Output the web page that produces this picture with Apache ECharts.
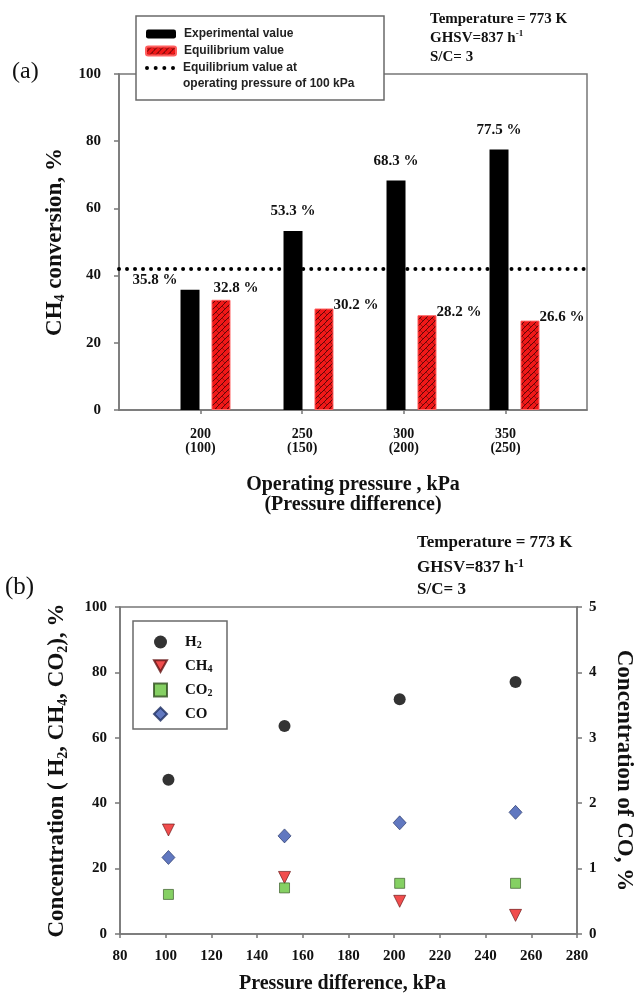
<!DOCTYPE html>
<html><head><meta charset="utf-8">
<script src="https://cdn.jsdelivr.net/npm/echarts@6/dist/echarts.min.js"></script>
<style>html,body{margin:0;padding:0;background:#fff}#c{width:635px;height:999px}</style>
</head><body><div id="c"></div><script>
// ---- data ----
const operatingPressure = [200, 250, 300, 350];
const pressureDifferenceLabels = ['100', '150', '200', '250'];
const experimentalValue = [35.8, 53.3, 68.3, 77.5];
const equilibriumValue = [32.8, 30.2, 28.2, 26.6];
const equilibriumAt100kPa = 42;
const pressureDifference = [101.2, 152.0, 202.4, 253.1];
const h2 = [47.2, 63.6, 71.8, 77.1];
const ch4 = [31.8, 17.3, 10.0, 5.7];
const co2 = [12.1, 14.1, 15.5, 15.5];
const co = [1.17, 1.50, 1.70, 1.86];

// ---- styles ----
const SERIF = '"Liberation Serif","Times New Roman",serif';
const SANS = '"Liberation Sans",Arial,sans-serif';
const AX = '#777';
const TXT = '#111';
const DOTS_ICON = 'path://M0,2a2,2 0 1,0 4,0a2,2 0 1,0 -4,0ZM8.67,2a2,2 0 1,0 4,0a2,2 0 1,0 -4,0ZM17.33,2a2,2 0 1,0 4,0a2,2 0 1,0 -4,0ZM26,2a2,2 0 1,0 4,0a2,2 0 1,0 -4,0Z';
const DOWN_TRIANGLE_ICON = 'path://M0,0L10,0L5,9Z';

function hatch() {
  const c = document.createElement('canvas'); c.width = 6; c.height = 6;
  const g = c.getContext('2d');
  g.fillStyle = '#f01818'; g.fillRect(0, 0, 6, 6);
  g.strokeStyle = 'rgba(25,0,0,0.85)'; g.lineWidth = 0.8;
  g.beginPath();
  g.moveTo(-1, 7); g.lineTo(7, -1);
  g.moveTo(-1, 1); g.lineTo(1, -1);
  g.moveTo(5, 7); g.lineTo(7, 5);
  g.stroke();
  g.strokeStyle = 'rgba(25,0,0,0.45)';
  g.beginPath(); g.moveTo(0, 0); g.lineTo(3, 3); g.stroke();
  return c;
}
const redPattern = { image: hatch(), repeat: 'repeat' };
const sub = (fs, lh) => ({ fontSize: fs, fontWeight: 'bold', fontFamily: SERIF, verticalAlign: 'bottom', lineHeight: lh, color: TXT });
const legendTextA = { fontFamily: SANS, fontWeight: 'bold', fontSize: 12, color: '#222', lineHeight: 14, padding: [0, 0, 0, 3] };

const chart = echarts.init(document.getElementById('c'), null, { renderer: 'canvas' });
const option = {
  animation: false,
  textStyle: { fontFamily: SERIF },
  grid: [
    { left: 119, right: 48, top: 74, bottom: 589, show: true, borderColor: AX, borderWidth: 1.5, containLabel: false, outerBoundsMode: 'none' },
    { left: 154, right: 69, top: 74, bottom: 589, containLabel: false, outerBoundsMode: 'none' },
    { left: 120, right: 58, top: 607, bottom: 65, show: true, borderColor: AX, borderWidth: 1.5, containLabel: false, outerBoundsMode: 'none' }
  ],
  xAxis: [
    {
      gridIndex: 0, type: 'value', min: 160, max: 390,
      axisLine: { lineStyle: { color: AX, width: 1.5 } },
      axisTick: { customValues: operatingPressure, length: 4, lineStyle: { color: AX, width: 1.5 } },
      splitLine: { show: false },
      axisLabel: {
        customValues: operatingPressure, margin: 17, color: TXT, fontWeight: 'bold', fontSize: 14, lineHeight: 14,
        formatter: v => { const i = operatingPressure.indexOf(v); return operatingPressure[i] + '\n(' + pressureDifferenceLabels[i] + ')'; }
      },
      name: 'Operating pressure , kPa\n(Pressure difference)', nameLocation: 'middle', nameGap: 65,
      nameTextStyle: { fontSize: 20, fontWeight: 'bold', color: TXT, lineHeight: 20, verticalAlign: 'top' }
    },
    { gridIndex: 1, type: 'category', data: operatingPressure.map(String), show: false },
    {
      gridIndex: 2, type: 'value', min: 80, max: 280, interval: 20,
      axisLine: { lineStyle: { color: AX, width: 1.5 } },
      axisTick: { length: 4, lineStyle: { color: AX, width: 1.5 } },
      splitLine: { show: false },
      axisLabel: { margin: 15, color: TXT, fontWeight: 'bold', fontSize: 15 },
      name: 'Pressure difference, kPa', nameLocation: 'middle', nameGap: 40,
      nameTextStyle: { fontSize: 20, fontWeight: 'bold', color: TXT, verticalAlign: 'top', padding: [0, 12, 0, 0] }
    }
  ],
  yAxis: [
    {
      gridIndex: 0, type: 'value', min: 0, max: 100, interval: 20,
      axisLine: { show: true, lineStyle: { color: AX, width: 1.5 } },
      axisTick: { show: true, length: 5, lineStyle: { color: AX, width: 1.5 } },
      splitLine: { show: false },
      axisLabel: { margin: 18, color: TXT, fontWeight: 'bold', fontSize: 15 },
      name: 'CH{s|4} conversion, %', nameLocation: 'middle', nameGap: 46, nameRotate: 90,
      nameTextStyle: { fontSize: 23, fontWeight: 'bold', color: TXT, lineHeight: 26, rich: { s: sub(14, 26) } }
    },
    { gridIndex: 1, type: 'value', min: 0, max: 100, show: false },
    {
      gridIndex: 2, type: 'value', min: 0, max: 100, interval: 20,
      axisLine: { show: true, lineStyle: { color: AX, width: 1.5 } },
      axisTick: { show: true, length: 5, lineStyle: { color: AX, width: 1.5 } },
      splitLine: { show: false },
      axisLabel: { margin: 13, color: TXT, fontWeight: 'bold', fontSize: 15 },
      name: 'Concentration ( H{s|2}, CH{s|4}, CO{s|2}), %', nameLocation: 'middle', nameGap: 50, nameRotate: 90,
      nameTextStyle: { fontSize: 23, fontWeight: 'bold', color: TXT, lineHeight: 26, rich: { s: sub(14, 26) } }
    },
    {
      gridIndex: 2, type: 'value', position: 'right', min: 0, max: 5, interval: 1,
      axisLine: { show: true, lineStyle: { color: AX, width: 1.5 } },
      axisTick: { show: true, length: 5, lineStyle: { color: AX, width: 1.5 } },
      splitLine: { show: false },
      axisLabel: { margin: 12, color: TXT, fontWeight: 'bold', fontSize: 15 },
      name: 'Concentration of CO, %', nameLocation: 'middle', nameGap: 35, nameRotate: -90,
      nameTextStyle: { fontSize: 23, fontWeight: 'bold', color: TXT }
    }
  ],
  legend: [
    {
      data: ['Experimental value', 'Equilibrium value'],
      orient: 'vertical', left: 145, top: 27, padding: 0, itemWidth: 30, itemHeight: 9, itemGap: 3,
      selectedMode: false, z: 6, textStyle: legendTextA
    },
    {
      data: [{ name: 'Equilibrium value at', icon: DOTS_ICON }],
      orient: 'vertical', left: 145, top: 61, padding: 0, itemWidth: 30, itemHeight: 4,
      selectedMode: false, z: 6, textStyle: legendTextA
    },
    {
      data: ['H2', { name: 'CH4', icon: DOWN_TRIANGLE_ICON }, 'CO2', 'CO'],
      orient: 'vertical', left: 153, top: 634, padding: 0, itemWidth: 13, itemHeight: 13, itemGap: 8,
      selectedMode: false, z: 6,
      formatter: n => n.replace(/(\d)/, '{s|$1}'),
      textStyle: { fontFamily: SERIF, fontWeight: 'bold', fontSize: 15, color: TXT, lineHeight: 16, padding: [0, 0, 0, 13],
        rich: { s: sub(10, 16) } }
    }
  ],
  graphic: [
    { type: 'rect', z: 5, shape: { x: 136, y: 16, width: 248, height: 84 }, style: { fill: '#fff', stroke: '#6a6a6a', lineWidth: 1.5 } },
    { type: 'text', z: 7, x: 183, y: 84, style: { text: 'operating pressure of 100 kPa', font: 'bold 12px ' + SANS, fill: '#222', verticalAlign: 'middle' } },
    { type: 'rect', z: 5, shape: { x: 133, y: 621, width: 94, height: 108 }, style: { fill: '#fff', stroke: '#6a6a6a', lineWidth: 1.5 } },
    { type: 'text', x: 430, y: 19, style: { text: 'Temperature = 773 K', font: 'bold 15px ' + SERIF, fill: TXT, verticalAlign: 'middle' } },
    { type: 'text', x: 430, y: 38, style: { text: 'GHSV=837 h{sup|-1}', font: 'bold 15px ' + SERIF, fill: TXT, verticalAlign: 'middle',
      rich: { sup: { font: 'bold 9px ' + SERIF, verticalAlign: 'top', padding: [0, 0, 8, 0] } } } },
    { type: 'text', x: 430, y: 57, style: { text: 'S/C= 3', font: 'bold 15px ' + SERIF, fill: TXT, verticalAlign: 'middle' } },
    { type: 'text', x: 417, y: 543, style: { text: 'Temperature = 773 K', font: 'bold 17px ' + SERIF, fill: TXT, verticalAlign: 'middle' } },
    { type: 'text', x: 417, y: 568, style: { text: 'GHSV=837 h{sup|-1}', font: 'bold 17px ' + SERIF, fill: TXT, verticalAlign: 'middle',
      rich: { sup: { font: 'bold 12px ' + SERIF, verticalAlign: 'top', padding: [0, 0, 9, 0] } } } },
    { type: 'text', x: 417, y: 590, style: { text: 'S/C= 3', font: 'bold 17px ' + SERIF, fill: TXT, verticalAlign: 'middle' } },
    { type: 'text', x: 12, y: 72, style: { text: '(a)', font: '24px ' + SERIF, fill: TXT, verticalAlign: 'middle' } },
    { type: 'text', x: 5, y: 587, style: { text: '(b)', font: '25px ' + SERIF, fill: TXT, verticalAlign: 'middle' } }
  ],
  series: [
    {
      name: 'Experimental value', type: 'bar', xAxisIndex: 1, yAxisIndex: 1,
      barWidth: 19, barGap: '63%',
      itemStyle: { color: '#000' },
      label: { show: true, position: 'top', distance: 12, formatter: '{c} %', color: TXT, fontWeight: 'bold', fontSize: 15, fontFamily: SERIF },
      data: experimentalValue.map((v, i) => i === 0 ? { value: v, label: { position: [-3, -10], align: 'right', verticalAlign: 'middle' } } : v)
    },
    {
      name: 'Equilibrium value', type: 'bar', xAxisIndex: 1, yAxisIndex: 1,
      barWidth: 19, barGap: '63%',
      itemStyle: { color: redPattern, borderColor: '#ff6060', borderWidth: 1 },
      label: { show: true, position: ['100%', -3], align: 'left', verticalAlign: 'middle', formatter: '{c} %', color: TXT, fontWeight: 'bold', fontSize: 15, fontFamily: SERIF },
      data: equilibriumValue.map((v, i) => i === 0 ? { value: v, label: { position: [2, -12], align: 'left', verticalAlign: 'middle' } } : v)
    },
    {
      name: 'Equilibrium value at', type: 'line', xAxisIndex: 0, yAxisIndex: 0, data: [],
      symbol: 'none', itemStyle: { color: '#000' },
      lineStyle: { color: '#000', width: 4, type: [0.01, 8], cap: 'round' },
      markLine: {
        silent: true, symbol: ['none', 'none'], label: { show: false },
        lineStyle: { color: '#000', width: 4, type: [0.01, 8], cap: 'round' },
        data: [{ yAxis: equilibriumAt100kPa }]
      }
    },
    {
      name: 'H2', type: 'scatter', xAxisIndex: 2, yAxisIndex: 2, symbol: 'circle', symbolSize: 12,
      itemStyle: { color: '#000' },
      data: pressureDifference.map((x, i) => [x, h2[i]])
    },
    {
      name: 'CH4', type: 'scatter', xAxisIndex: 2, yAxisIndex: 2, symbol: 'triangle', symbolRotate: 180, symbolSize: 12,
      itemStyle: { color: '#ee2020', borderColor: '#601010', borderWidth: 0.8 },
      data: pressureDifference.map((x, i) => [x, ch4[i]])
    },
    {
      name: 'CO2', type: 'scatter', xAxisIndex: 2, yAxisIndex: 2, symbol: 'rect', symbolSize: 10,
      itemStyle: { color: '#66c43c', borderColor: '#2f4f1f', borderWidth: 0.8 },
      data: pressureDifference.map((x, i) => [x, co2[i]])
    },
    {
      name: 'CO', type: 'scatter', xAxisIndex: 2, yAxisIndex: 3, symbol: 'diamond', symbolSize: [13, 14],
      itemStyle: { color: '#3a56b0', borderColor: '#1e2e60', borderWidth: 0.8 },
      data: pressureDifference.map((x, i) => [x, co[i]])
    }
  ]
};
chart.setOption(option);
</script></body></html>
